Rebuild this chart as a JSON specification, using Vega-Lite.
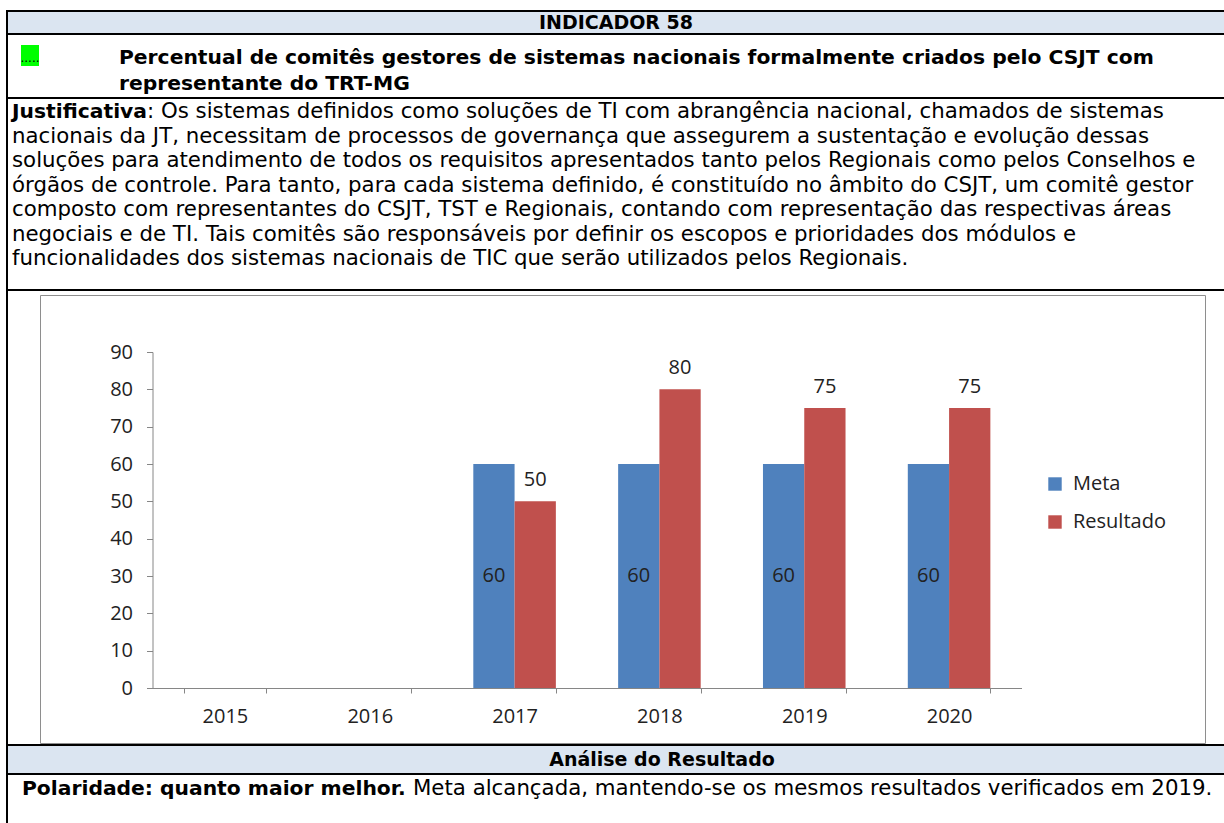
{
  "$schema": "https://vega.github.io/schema/vega-lite/v6.json",
  "padding": {"left": 6, "top": 10, "right": 0, "bottom": 0},
  "background": "white",
  "spacing": 0,
  "bounds": "full",
  "config": {"view": {"stroke": null}, "concat": {"spacing": 0}, "font": "DejaVu Sans"},
  "hconcat": [
    {"width": 2, "height": 813, "view": {"fill": "black"}, "data": {"values": []}, "mark": {"type": "text"}},
    {
      "spacing": 0, "bounds": "full",
      "vconcat": [
        {"width": 1216, "height": 2, "view": {"fill": "black"}, "data": {"values": []}, "mark": {"type": "text"}},
        {
          "width": 1216, "height": 21,
          "view": {"fill": "#dbe5f1"},
          "data": {"values": [{"t": "INDICADOR 58"}]},
          "mark": {"type": "text", "font": "DejaVu Sans", "fontWeight": "bold", "fontSize": 19, "color": "black", "baseline": "middle", "align": "center"},
          "encoding": {"text": {"field": "t"}}
        },
        {"width": 1216, "height": 2, "view": {"fill": "black"}, "data": {"values": []}, "mark": {"type": "text"}},
        {
          "spacing": 0, "bounds": "full",
          "hconcat": [
            {"width": 12, "height": 62, "data": {"values": []}, "mark": {"type": "text"}},
            {
              "spacing": 0, "bounds": "full",
              "vconcat": [
                {"width": 18, "height": 10, "data": {"values": []}, "mark": {"type": "text"}},
                {
                  "width": 18, "height": 21,
                  "view": {"fill": "#00ff00"},
                  "data": {"values": [{"t": "....."}]},
                  "mark": {"type": "text", "font": "DejaVu Sans", "fontSize": 12, "color": "black", "baseline": "bottom", "align": "center", "dy": 9},
                  "encoding": {"text": {"field": "t"}}
                }
              ]
            },
            {
              "width": 1186, "height": 62,
              "data": {"values": [
                {"line": 1, "t": "Percentual de comitês gestores de sistemas nacionais formalmente criados pelo CSJT com"},
                {"line": 2, "t": "representante do TRT-MG"}
              ]},
              "mark": {"type": "text", "font": "DejaVu Sans", "fontWeight": "bold", "fontSize": 20.3, "color": "black", "baseline": "middle", "align": "left", "x": 79},
              "encoding": {
                "y": {"field": "line", "type": "ordinal", "axis": null, "scale": {"type": "point", "range": [23, 49], "padding": 0}},
                "text": {"field": "t"}
              }
            }
          ]
        },
        {"width": 1216, "height": 2, "view": {"fill": "black"}, "data": {"values": []}, "mark": {"type": "text"}},
        {
          "width": 1216, "height": 190,
          "layer": [
            {
              "data": {"values": [{"line": 1, "t": "Justificativa"}]},
              "mark": {"type": "text", "font": "DejaVu Sans", "fontWeight": "bold", "fontSize": 20.3, "color": "black", "baseline": "middle", "align": "left", "x": 4},
              "encoding": {
                "y": {"field": "line", "type": "ordinal", "axis": null, "scale": {"type": "point", "range": [13, 160], "padding": 0}},
                "text": {"field": "t"}
              }
            },
            {
              "data": {"values": [{"line": 1, "t": ": Os sistemas definidos como soluções de TI com abrangência nacional, chamados de sistemas"}]},
              "mark": {"type": "text", "font": "DejaVu Sans", "fontSize": 21.3, "color": "black", "baseline": "middle", "align": "left", "x": 139},
              "encoding": {
                "y": {"field": "line", "type": "ordinal", "axis": null},
                "text": {"field": "t"}
              }
            },
            {
              "data": {"values": [
                {"line": 2, "t": "nacionais da JT, necessitam de processos de governança que assegurem a sustentação e evolução dessas"},
                {"line": 3, "t": "soluções para atendimento de todos os requisitos apresentados tanto pelos Regionais como pelos Conselhos e"},
                {"line": 4, "t": "órgãos de controle. Para tanto, para cada sistema definido, é constituído no âmbito do CSJT, um comitê gestor"},
                {"line": 5, "t": "composto com representantes do CSJT, TST e Regionais, contando com representação das respectivas áreas"},
                {"line": 6, "t": "negociais e de TI. Tais comitês são responsáveis por definir os escopos e prioridades dos módulos e"},
                {"line": 7, "t": "funcionalidades dos sistemas nacionais de TIC que serão utilizados pelos Regionais."}
              ]},
              "mark": {"type": "text", "font": "DejaVu Sans", "fontSize": 21.3, "color": "black", "baseline": "middle", "align": "left", "x": 4},
              "encoding": {
                "y": {"field": "line", "type": "ordinal", "axis": null},
                "text": {"field": "t"}
              }
            }
          ]
        },
        {"width": 1216, "height": 2, "view": {"fill": "black"}, "data": {"values": []}, "mark": {"type": "text"}},
        {
          "spacing": 0, "bounds": "full",
          "hconcat": [
            {"width": 31, "height": 452, "data": {"values": []}, "mark": {"type": "text"}},
            {
              "spacing": 0, "bounds": "full",
              "vconcat": [
                {"width": 1165, "height": 3, "data": {"values": []}, "mark": {"type": "text"}},
                {
                  "width": 1165, "height": 448,
                  "view": {"stroke": "#8e8e8e", "strokeWidth": 1},
                  "data": {"values": [
                    {"ano": "2017", "serie": "Meta", "valor": 60},
                    {"ano": "2017", "serie": "Resultado", "valor": 50},
                    {"ano": "2018", "serie": "Meta", "valor": 60},
                    {"ano": "2018", "serie": "Resultado", "valor": 80},
                    {"ano": "2019", "serie": "Meta", "valor": 60},
                    {"ano": "2019", "serie": "Resultado", "valor": 75},
                    {"ano": "2020", "serie": "Meta", "valor": 60},
                    {"ano": "2020", "serie": "Resultado", "valor": 75}
                  ]},
                  "encoding": {
                    "x": {
                      "field": "ano", "type": "nominal",
                      "scale": {"domain": ["2015", "2016", "2017", "2018", "2019", "2020"], "range": [112.5, 981.5], "paddingInner": 0.43, "paddingOuter": 0.215},
                      "axis": {"title": null, "orient": "bottom", "offset": -55, "tickBand": "extent", "domainColor": "#868686", "tickColor": "#868686", "tickSize": 5, "domainWidth": 1, "tickWidth": 1, "labelFont": "Open Sans", "labelFontSize": 20, "labelColor": "#222222", "labelPadding": 13, "labelAngle": 0}
                    },
                    "xOffset": {"field": "serie", "type": "nominal", "scale": {"domain": ["Meta", "Resultado"]}},
                    "y": {
                      "field": "valor", "type": "quantitative",
                      "scale": {"domain": [0, 90], "range": [393, 57], "nice": false, "zero": true},
                      "axis": {"title": null, "offset": -112.5, "values": [0, 10, 20, 30, 40, 50, 60, 70, 80, 90], "grid": false, "domainColor": "#868686", "tickColor": "#868686", "tickSize": 6, "domainWidth": 1, "tickWidth": 1, "labelFont": "Open Sans", "labelFontSize": 20, "labelColor": "#222222", "labelPadding": 14}
                    }
                  },
                  "layer": [
                    {
                      "mark": {"type": "bar"},
                      "encoding": {
                        "color": {
                          "field": "serie", "type": "nominal",
                          "scale": {"domain": ["Meta", "Resultado"], "range": ["#4f81bd", "#c0504d"]},
                          "legend": {"title": null, "orient": "none", "legendX": 1039, "legendY": 464, "direction": "vertical", "padding": 0, "symbolType": "square", "symbolSize": 180, "symbolStrokeWidth": 0, "labelFont": "Open Sans", "labelFontSize": 20, "labelColor": "#222222", "labelOffset": 8, "rowPadding": 18}
                        }
                      }
                    },
                    {
                      "transform": [{"filter": "datum.serie == 'Meta'"}],
                      "mark": {"type": "text", "font": "Open Sans", "fontSize": 20, "color": "#222222", "baseline": "middle", "dy": 112},
                      "encoding": {"text": {"field": "valor"}}
                    },
                    {
                      "transform": [{"filter": "datum.serie == 'Resultado'"}],
                      "mark": {"type": "text", "font": "Open Sans", "fontSize": 20, "color": "#222222", "baseline": "middle", "dy": -21},
                      "encoding": {"text": {"field": "valor"}}
                    }
                  ]
                }
              ]
            }
          ]
        },
        {"width": 1216, "height": 2, "view": {"fill": "black"}, "data": {"values": []}, "mark": {"type": "text"}},
        {
          "width": 1216, "height": 27,
          "view": {"fill": "#dbe5f1"},
          "data": {"values": [{"t": "Análise do Resultado"}]},
          "mark": {"type": "text", "font": "DejaVu Sans", "fontWeight": "bold", "fontSize": 19, "color": "black", "baseline": "middle", "align": "center", "x": 654},
          "encoding": {"text": {"field": "t"}}
        },
        {"width": 1216, "height": 2, "view": {"fill": "black"}, "data": {"values": []}, "mark": {"type": "text"}},
        {
          "width": 1216, "height": 49,
          "layer": [
            {
              "data": {"values": [{"t": "Polaridade: quanto maior melhor."}]},
              "mark": {"type": "text", "font": "DejaVu Sans", "fontWeight": "bold", "fontSize": 20.3, "color": "black", "baseline": "middle", "align": "left", "x": 14, "y": 14},
              "encoding": {"text": {"field": "t"}}
            },
            {
              "data": {"values": [{"t": "Meta alcançada, mantendo-se os mesmos resultados verificados em 2019."}]},
              "mark": {"type": "text", "font": "DejaVu Sans", "fontSize": 21.3, "color": "black", "baseline": "middle", "align": "left", "x": 405, "y": 14},
              "encoding": {"text": {"field": "t"}}
            }
          ]
        }
      ]
    }
  ]
}
